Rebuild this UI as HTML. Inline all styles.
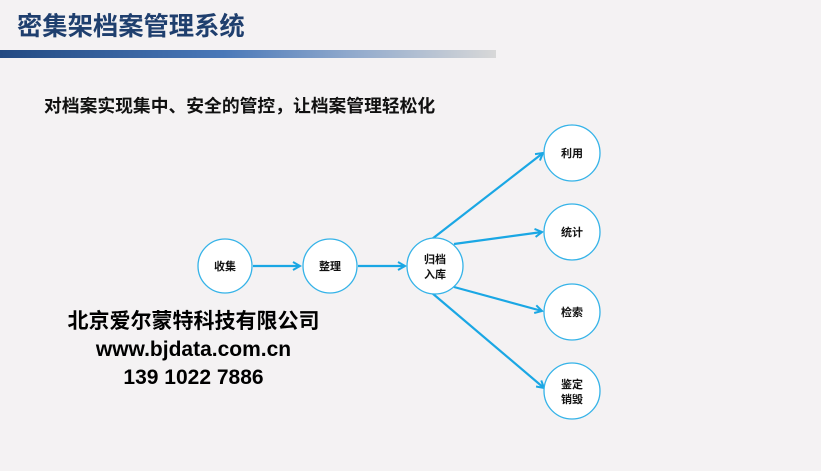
<!DOCTYPE html>
<html><head><meta charset="utf-8"><style>
body{margin:0;width:821px;height:471px;background:#f4f2f3;overflow:hidden;position:relative;font-family:"Liberation Sans","Noto Sans CJK SC",sans-serif}
.t{position:absolute;left:17px;top:7px;font-size:25.3px;font-weight:bold;color:#1f3f6e}
.bar{position:absolute;left:0;top:50px;width:496px;height:8px;background:linear-gradient(90deg,#234a82,#4a78b8 45%,#8ea8cc 70%,#d8d8d8)}
.s{position:absolute;left:44px;top:92px;font-size:17.8px;font-weight:bold;color:#111}
.c{position:absolute;left:56px;top:308px;font-size:21px;font-weight:bold;color:#000;text-align:center;width:275px;line-height:28px}
</style></head><body>
<div class="t">密集架档案管理系统</div>
<div class="bar"></div>
<div class="s">对档案实现集中、安全的管控，让档案管理轻松化</div>
<div class="c">北京爱尔蒙特科技有限公司<br>www.bjdata.com.cn<br>139 1022 7886</div>
<svg width="821" height="471" style="position:absolute;left:0;top:0" font-family="Liberation Sans,Noto Sans CJK SC,sans-serif">
<defs><marker id="a" markerWidth="10" markerHeight="10" refX="8" refY="5" orient="auto" markerUnits="userSpaceOnUse"><path d="M1,1 L8,5 L1,9" fill="none" stroke="#1aa7e4" stroke-width="2"/></marker></defs>
<g stroke="#1aa7e4" stroke-width="2.2" fill="none" marker-end="url(#a)">
<line x1="253" y1="266" x2="300" y2="266"/>
<line x1="358" y1="266" x2="405" y2="266"/>
<line x1="432" y1="239" x2="543" y2="153"/>
<line x1="454" y1="244" x2="542" y2="232"/>
<line x1="454" y1="287" x2="542" y2="311"/>
<line x1="432" y1="293" x2="544" y2="388"/>
</g>
<g fill="#fff" stroke="#35b3e8" stroke-width="1.3">
<circle cx="225" cy="266" r="27"/><circle cx="330" cy="266" r="27"/><circle cx="435" cy="266" r="28"/>
<circle cx="572" cy="153" r="28"/><circle cx="572" cy="232" r="28"/><circle cx="572" cy="312" r="28"/><circle cx="572" cy="391" r="28"/>
</g>
<g font-size="11" fill="#111" text-anchor="middle" font-weight="bold">
<text x="225" y="270">收集</text><text x="330" y="270">整理</text>
<text x="435" y="263">归档</text><text x="435" y="278">入库</text>
<text x="572" y="157">利用</text><text x="572" y="236">统计</text><text x="572" y="316">检索</text>
<text x="572" y="388">鉴定</text><text x="572" y="403">销毁</text>
</g>
</svg>
</body></html>
